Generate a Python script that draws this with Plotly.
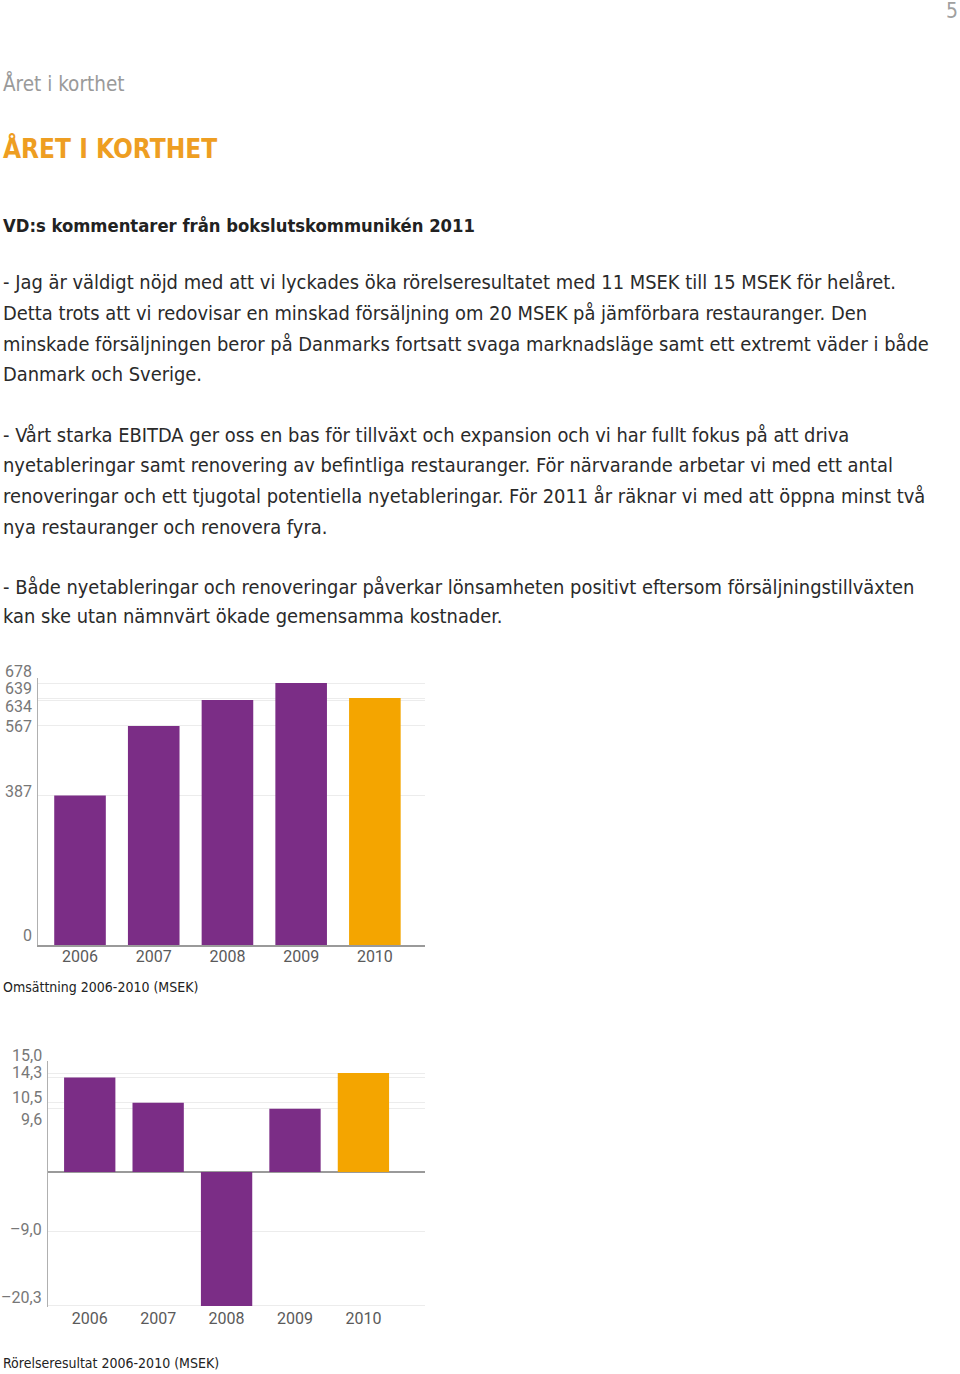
import plotly.graph_objects as go

# ---------------- data ----------------
years = ["2006", "2007", "2008", "2009", "2010"]
omsattning = [387, 567, 634, 678, 639]
omsattning_ticks = [0, 387, 567, 634, 639, 678]
omsattning_ticktext = ["0", "387", "567", "634", "639", "678"]

rorelse = [14.3, 10.5, -20.3, 9.6, 15.0]
rorelse_ticks = [15.0, 14.3, 10.5, 9.6, -9.0, -20.3]
rorelse_ticktext = ["15,0", "14,3", "10,5", "9,6", "–9,0", "–20,3"]

bar_colors = ["#7b2d86", "#7b2d86", "#7b2d86", "#7b2d86", "#f4a500"]

header_small = "Året i korthet"
header_title = "ÅRET I KORTHET"
subtitle = "VD:s kommentarer från bokslutskommunikén 2011"
body_lines = [
    "- Jag är väldigt nöjd med att vi lyckades öka rörelseresultatet med 11 MSEK till 15 MSEK för helåret.",
    "Detta trots att vi redovisar en minskad försäljning om 20 MSEK på jämförbara restauranger. Den",
    "minskade försäljningen beror på Danmarks fortsatt svaga marknadsläge samt ett extremt väder i både",
    "Danmark och Sverige.",
    "- Vårt starka EBITDA ger oss en bas för tillväxt och expansion och vi har fullt fokus på att driva",
    "nyetableringar samt renovering av befintliga restauranger. För närvarande arbetar vi med ett antal",
    "renoveringar och ett tjugotal potentiella nyetableringar. För 2011 år räknar vi med att öppna minst två",
    "nya restauranger och renovera fyra.",
    "- Både nyetableringar och renoveringar påverkar lönsamheten positivt eftersom försäljningstillväxten",
    "kan ske utan nämnvärt ökade gemensamma kostnader.",
]
caption1 = "Omsättning 2006-2010 (MSEK)"
caption2 = "Rörelseresultat 2006-2010 (MSEK)"
page_number = "5"

# ---------------- layout helpers ----------------
W, H = 960, 1374
def px(x):
    return x / W
def py(y):
    return 1 - y / H

BODY_FONT = "DejaVu Sans Condensed, Noto Sans, sans-serif"
NUM_FONT = "Roboto, Liberation Sans, sans-serif"

fig = go.Figure()

fig.add_trace(go.Bar(x=years, y=omsattning, marker=dict(color=bar_colors, line=dict(width=0)),
                     xaxis="x", yaxis="y", width=0.70, showlegend=False, hoverinfo="x+y"))
fig.add_trace(go.Bar(x=years, y=rorelse, marker=dict(color=bar_colors, line=dict(width=0)),
                     xaxis="x2", yaxis="y2", width=0.75, showlegend=False, hoverinfo="x+y"))

# chart 1 geometry: zero at y=945px, scale ~0.3864 px/unit
c1_bottom, c1_scale = 945, 0.3864
c1_range = [0, 690]
c1_top = c1_bottom - c1_range[1] * c1_scale
# chart 2 geometry: zero at y=1172px, scale 6.6 px/unit
c2_zero, c2_scale = 1172, 6.6
c2_range = [-20.5, 16.8]
c2_bottom = c2_zero - c2_range[0] * c2_scale
c2_top = c2_zero - c2_range[1] * c2_scale

grid_col = "#ececec"
fig.update_layout(
    width=W, height=H,
    margin=dict(l=0, r=0, t=0, b=0),
    paper_bgcolor="white", plot_bgcolor="white",
    showlegend=False,
    xaxis=dict(domain=[px(38), px(425)], type="category", range=[-0.57, 4.68],
               showline=True, linecolor="#9a9a9a", linewidth=1.5, ticks="",
               tickfont=dict(family=NUM_FONT, size=16, color="#5a5a5a"),
               ticklabelstandoff=-4,
               showgrid=False, zeroline=False, fixedrange=True, anchor="y"),
    yaxis=dict(domain=[py(c1_bottom), py(c1_top)], range=c1_range,
               tickvals=omsattning_ticks, showticklabels=False, ticks="",
               showgrid=True, gridcolor=grid_col, gridwidth=1,
               showline=True, linecolor="#b0b0b0", linewidth=1,
               zeroline=False, fixedrange=True, anchor="x"),
    xaxis2=dict(domain=[px(48), px(425)], type="category", range=[-0.61, 4.9],
                showline=False, ticks="",
                tickfont=dict(family=NUM_FONT, size=16, color="#5a5a5a"),
                ticklabelstandoff=0,
                showgrid=False, zeroline=False, fixedrange=True, anchor="y2"),
    yaxis2=dict(domain=[py(c2_bottom), py(c2_top)], range=c2_range,
                tickvals=rorelse_ticks, showticklabels=False, ticks="",
                showgrid=True, gridcolor=grid_col, gridwidth=1,
                showline=True, linecolor="#b0b0b0", linewidth=1,
                zeroline=True, zerolinecolor="#9a9a9a", zerolinewidth=1.5,
                fixedrange=True, anchor="x2"),
)

ann = []
# y-axis value labels (staggered like the original)
c1_shifts = [10, 3.5, -1, -6, 10, 12]
for v, t, s in zip(omsattning_ticks, omsattning_ticktext, c1_shifts):
    ann.append(dict(x=px(34), xref="paper", y=v, yref="y", yshift=s, text=t,
                    xanchor="right", yanchor="middle", showarrow=False,
                    font=dict(family=NUM_FONT, size=16, color="#777777")))
c2_shifts = [18, 5, 4.7, -10.4, 1.4, 8]
for v, t, s in zip(rorelse_ticks, rorelse_ticktext, c2_shifts):
    ann.append(dict(x=px(44), xref="paper", y=v, yref="y2", yshift=s, text=t,
                    xanchor="right", yanchor="middle", showarrow=False,
                    font=dict(family=NUM_FONT, size=16, color="#777777")))

def text(x, y, s, size, color, family=BODY_FONT, anchor="left"):
    ann.append(dict(x=px(x), y=py(y), xref="paper", yref="paper", text=s,
                    xanchor=anchor, yanchor="middle", showarrow=False,
                    font=dict(family=family, size=size, color=color)))

text(960, 11, page_number, 21, "#a0a0a0", anchor="right")
text(1, 83, header_small, 20.5, "#9a9a9a")
text(1, 148, "<b>" + header_title + "</b>", 26, "#ee9e22")
text(1, 225, "<b>" + subtitle + "</b>", 18.3, "#222222")

body_y = [282, 313, 344, 374, 435, 466, 497, 527, 587, 617]
for yy, line in zip(body_y, body_lines):
    text(1, yy, line, 19.9, "#2a2a2a")

text(1, 987, caption1, 14, "#222222")
text(1, 1363, caption2, 14, "#222222")

fig.update_layout(annotations=ann)
fig.write_html("out.html", config={"displayModeBar": False},
               post_script="document.body.style.margin='0px';document.body.style.padding='0px';")
